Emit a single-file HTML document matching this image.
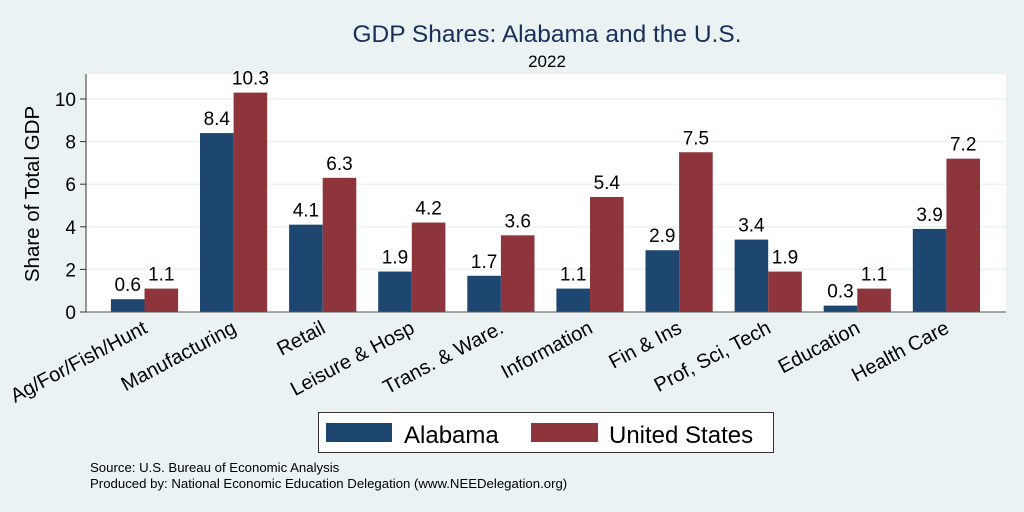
<!DOCTYPE html>
<html><head><meta charset="utf-8"><style>
body{margin:0;background:#eaf2f3;}
svg{display:block;font-family:"Liberation Sans",Arial,sans-serif;}
</style></head><body>
<svg id="chart" width="1024" height="512" viewBox="0 0 1024 512">
<rect x="0" y="0" width="1024" height="512" fill="#eaf2f3"/>
<text x="547" y="42" font-size="24.5" fill="#1a2f5a" text-anchor="middle">GDP Shares: Alabama and the U.S.</text>
<text x="547" y="67" font-size="17" fill="#000" text-anchor="middle">2022</text>
<rect x="86" y="74" width="920" height="238" fill="#fff"/>
<g id="grid"></g>
<g id="bars"></g>
<g id="yaxis"></g>
<g id="xaxis"></g>
<text transform="translate(39,194) rotate(-90)" font-size="20.5" text-anchor="middle">Share of Total GDP</text>
<g>
<rect x="318.5" y="412.5" width="455" height="40" fill="#fff" stroke="#333"/>
<rect x="326" y="423" width="66" height="19" fill="#1d4771"/>
<text x="404" y="443" font-size="24">Alabama</text>
<rect x="531" y="423" width="67" height="19" fill="#8e353c"/>
<text x="609" y="443" font-size="24">United States</text>
</g>
<text x="90" y="472" font-size="13.2">Source: U.S. Bureau of Economic Analysis</text>
<text x="90" y="488" font-size="13.2">Produced by: National Economic Education Delegation (www.NEEDelegation.org)</text>
</svg>
<script>
const categories=["Ag/For/Fish/Hunt","Manufacturing","Retail","Leisure & Hosp","Trans. & Ware.","Information","Fin & Ins","Prof, Sci, Tech","Education","Health Care"];
const alabama=[0.6,8.4,4.1,1.9,1.7,1.1,2.9,3.4,0.3,3.9];
const unitedStates=[1.1,10.3,6.3,4.2,3.6,5.4,7.5,1.9,1.1,7.2];
const yTicks=[0,2,4,6,8,10];
const NS="http://www.w3.org/2000/svg";
const y0=312, pxPerUnit=21.3, x0=144.5, step=89.1, bw=33.6;
function yS(v){return y0-v*pxPerUnit;}
function xC(i){return x0+i*step;}
function mk(tag,attrs,parent,text){const e=document.createElementNS(NS,tag);for(const k in attrs)e.setAttribute(k,attrs[k]);if(text!==undefined)e.textContent=text;parent.appendChild(e);return e;}
const grid=document.getElementById('grid'),bars=document.getElementById('bars'),ya=document.getElementById('yaxis'),xa=document.getElementById('xaxis');
yTicks.forEach(t=>{
  if(t>0){const g=mk('line',{x1:86,x2:1006,y1:yS(t),y2:yS(t),stroke:'#eaf2f3','stroke-width':1.5},grid);
  
  }
  const tk=mk('line',{x1:80,x2:86,y1:yS(t),y2:yS(t),stroke:'#333'},ya);
  
  
  const tl=mk('text',{x:76,y:yS(t)+7,'font-size':19,'text-anchor':'end'},ya,String(t));
  
  
});
mk('line',{x1:86,x2:86,y1:74,y2:312,stroke:'#333'},ya);
mk('line',{x1:86,x2:1006,y1:312,y2:312,stroke:'#555'},xa);
categories.forEach((c,i)=>{
  const cx=xC(i);
  [[alabama[i],'#1d4771',cx-bw,'alabama'],[unitedStates[i],'#8e353c',cx,'us']].forEach(([v,col,x,s])=>{
    const r=mk('rect',{x:x,y:yS(v),width:bw,height:v*pxPerUnit,fill:col},bars);
    
    
    const t=mk('text',{x:x+bw/2,y:yS(v)-8,'font-size':19,'text-anchor':'middle'},bars,v.toFixed(1));
    
    
  });
  const l=mk('text',{transform:'translate('+(cx+4)+',332) rotate(-28)','font-size':20,'text-anchor':'end'},xa,c);
  
  
});
</script>
</body></html>
